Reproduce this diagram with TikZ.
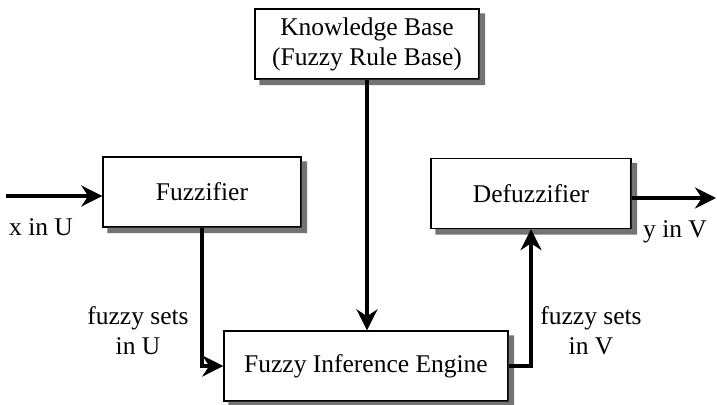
\documentclass[tikz,border=0pt]{standalone}
\usepackage{fontspec}
\setmainfont{Liberation Serif}
\usetikzlibrary{arrows.meta}

\tikzset{
  blk/.style={draw, line width=1.3pt, fill=white, inner sep=0pt, minimum height=70pt, align=center},
  shade box/.style={fill=black!55},
  flow/.style={line width=3.2pt, -{Stealth[length=21pt,width=21pt]}},
  lbl/.style={align=center},
}

\begin{document}
\begin{tikzpicture}[x=1pt,y=-1pt,font=\fontsize{25.5}{30}\selectfont]
    \useasboundingbox (0,0) rectangle (717,404);

    % the four blocks
    \node[blk,minimum width=224pt] (kb) at (367,44) {Knowledge Base\\(Fuzzy Rule Base)};
    \node[blk,minimum width=198pt] (fuzz) at (202,192) {Fuzzifier};
    \node[blk,minimum width=200pt] (defuzz) at (531,193.5) {Defuzzifier};
    \node[blk,minimum width=284pt] (engine) at (366,366) {Fuzzy Inference Engine};

    % shadow strips along the right and bottom sides
    \foreach \blkname in {kb,fuzz,defuzz,engine}{
      \path (\blkname.north east) ++(0,5) coordinate (s1)
            (\blkname.south east) ++(5.5,5.5) coordinate (s2)
            (\blkname.south west) ++(5,0) coordinate (s3);
      \fill[shade box] (s1) rectangle (s2) (s3) rectangle (s2);
    }

    % free ends of input and output
    \coordinate (in) at (6,196);
    \coordinate (out) at (716,198);

    \draw[flow] (in) -- (in -| fuzz.west);
    \draw[flow] (fuzz.south) |- (engine.west);
    \draw[flow] (kb.south) -- (kb.south |- engine.north);
    \draw[flow] (engine.east) -| (defuzz.south);
    \draw[flow] (out -| defuzz.east) -- (out);

    % labels
    \node[anchor=base] (xin) at (41,235) {x in U};
    \node[anchor=base] (yout) at (675,237) {y in V};
    \node[lbl] (setsu) at (138,331) {fuzzy sets\\in U};
    \node[lbl] (setsv) at (591,331) {fuzzy sets\\in V};
\end{tikzpicture}
\end{document}
